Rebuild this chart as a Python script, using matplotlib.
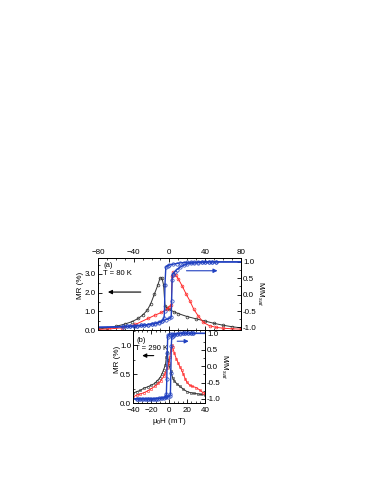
import matplotlib
matplotlib.use("Agg")
import matplotlib.pyplot as plt
import numpy as np

plt.rcParams['font.family'] = ['Liberation Sans', 'DejaVu Sans']
plt.rcParams['mathtext.fontset'] = 'custom'
plt.rcParams['mathtext.rm'] = 'Liberation Sans'
plt.rcParams['mathtext.it'] = 'Liberation Sans:italic'

# ---- panel (a), T = 80 K ----
# MR, field swept from +80 down to -80
xa_blk = [80, 70, 60, 50, 40, 30, 20, 10, 5, 0, -3, -5, -6.5, -8.5, -10.5, -13, -17, -21, -25, -30, -35, -42, -50, -60, -70, -80]
mra_blk = [0.12, 0.18, 0.26, 0.36, 0.48, 0.6, 0.72, 0.88, 0.98, 1.1, 1.2, 1.3, 2.4, 2.8, 2.78, 2.4, 1.9, 1.4, 1.05, 0.8, 0.62, 0.45, 0.32, 0.2, 0.12, 0.05]
# MR, field swept from -80 up to +80
xa_red = [-80, -68, -53, -38, -24, -16, -9, -3, 0, 2, 3, 4.5, 7, 10, 14, 19, 23, 27, 32, 38, 45, 52, 60, 70, 80]
mra_red = [0.04, 0.06, 0.12, 0.3, 0.62, 0.8, 0.94, 1.1, 1.25, 1.35, 2.9, 3.08, 2.95, 2.73, 2.38, 1.9, 1.55, 1.14, 0.77, 0.41, 0.23, 0.15, 0.1, 0.07, 0.05]
# M/Msat, descending branch
xa_mdn = [80, 60, 52, 48, 44, 40, 36, 32, 28, 24, 20, 16, 12, 8, 4, 0, -2, -4, -5, -5.5, -6, -8, -12, -16, -20, -24, -28, -32, -36, -40, -44, -48, -52, -60, -80]
ma_dn = [1.0, 1.0, 1.0, 1.0, 1.0, 1.0, 1.0, 1.0, 0.99, 0.99, 0.99, 0.98, 0.97, 0.95, 0.93, 0.91, 0.89, 0.85, 0.3, -0.5, -0.7, -0.8, -0.85, -0.88, -0.9, -0.92, -0.93, -0.94, -0.95, -0.96, -0.96, -0.97, -0.97, -0.98, -0.99]
# M/Msat, ascending branch
xa_mup = [-80, -60, -52, -48, -44, -40, -36, -32, -28, -24, -20, -16, -12, -8, -4, 0, 2, 2.5, 3, 3.5, 4, 6, 8, 12, 16, 20, 24, 28, 32, 36, 40, 44, 48, 52, 60, 80]
ma_up = [-1.0, -0.99, -0.98, -0.97, -0.97, -0.96, -0.95, -0.94, -0.93, -0.91, -0.89, -0.87, -0.84, -0.8, -0.76, -0.72, -0.68, -0.2, 0.45, 0.6, 0.64, 0.7, 0.76, 0.84, 0.9, 0.94, 0.96, 0.97, 0.98, 0.99, 0.99, 1.0, 1.0, 1.0, 1.0, 1.0]

# ---- panel (b), T = 290 K ----
xb_blk = [40, 36, 32, 28, 24, 20, 16, 12, 9, 6, 4, 2, 0, -1, -2, -3, -4, -6, -8, -10, -13, -16, -20, -24, -28, -32, -36, -40]
mrb_blk = [0.14, 0.15, 0.16, 0.17, 0.18, 0.2, 0.24, 0.29, 0.33, 0.38, 0.44, 0.55, 0.65, 0.75, 0.88, 0.8, 0.66, 0.58, 0.5, 0.44, 0.39, 0.34, 0.31, 0.28, 0.26, 0.22, 0.2, 0.17]
xb_red = [-40, -36, -32, -28, -24, -20, -16, -12, -9, -6, -4, -2, 0, 1, 2, 3, 4, 6, 8, 10, 12, 14, 16, 18, 20, 23, 26, 30, 34, 38, 40]
mrb_red = [0.11, 0.14, 0.16, 0.18, 0.21, 0.25, 0.29, 0.34, 0.39, 0.46, 0.52, 0.6, 0.7, 0.8, 0.92, 1.0, 0.96, 0.86, 0.77, 0.7, 0.63, 0.57, 0.5, 0.42, 0.36, 0.31, 0.29, 0.27, 0.23, 0.18, 0.17]
xb_mdn = [40, 30, 27, 24, 21, 18, 15, 12, 9, 6, 3, 1, -1, -1.5, -2, -2.5, -3, -3.5, -5, -8, -11, -14, -17, -20, -23, -26, -29, -32, -36, -40]
mb_dn = [1.0, 1.0, 1.0, 1.0, 1.0, 1.0, 1.0, 1.0, 0.99, 0.99, 0.98, 0.97, 0.95, 0.9, 0.4, -0.4, -0.86, -0.92, -0.95, -0.97, -0.98, -0.99, -1.0, -1.0, -1.0, -1.0, -1.0, -1.0, -1.0, -1.0]
xb_mup = [-40, -36, -33, -30, -27, -24, -21, -18, -15, -12, -9, -6, -3, -1, 1, 1.5, 2, 2.5, 3, 4, 6, 9, 12, 15, 18, 21, 24, 27, 30, 40]
mb_up = [-1.0, -1.0, -1.0, -1.0, -1.0, -1.0, -1.0, -1.0, -0.99, -0.99, -0.98, -0.97, -0.95, -0.93, -0.9, -0.85, -0.2, 0.6, 0.88, 0.93, 0.96, 0.98, 0.99, 1.0, 1.0, 1.0, 1.0, 1.0, 1.0, 1.0]

blk = '#333333'
red = '#ff2a2a'
blue = '#2040c0'
fs = 5.8


def style(ax):
    ax.tick_params(which='both', direction='in', labelsize=fs, pad=1.5)
    ax.tick_params(which='major', length=3, width=0.6)
    ax.tick_params(which='minor', length=1.5, width=0.5)
    for s in ax.spines.values():
        s.set_linewidth(0.7)


fig = plt.figure(figsize=(3.74, 4.84), dpi=100)

# panel a
ax1 = fig.add_axes([0.262, 0.318, 0.382, 0.149])
ax1.plot(xa_blk, mra_blk, color=blk, lw=0.7, marker='o', ms=2.0, mfc='none', mew=0.5)
ax1.plot(xa_red, mra_red, color=red, lw=0.7, marker='o', ms=2.0, mfc='none', mew=0.5)
ax1.set_xlim(-80, 80)
ax1.set_ylim(0, 3.85)
ax1.set_xticks([-80, -40, 0, 40, 80])
ax1.set_xticks(np.arange(-80, 81, 10), minor=True)
ax1.set_yticks([0, 1, 2, 3])
ax1.set_yticklabels(['0.0', '1.0', '2.0', '3.0'])
ax1.set_yticks(np.arange(0, 3.8, 0.5), minor=True)
ax1.xaxis.set_ticks_position('both')
ax1.tick_params(labelbottom=False, labeltop=True)
style(ax1)
ax1.set_ylabel('MR (%)', fontsize=fs, labelpad=1)
ax1.yaxis.set_label_coords(-0.1, 0.62)
ax1.text(0.04, 0.89, '(a)', transform=ax1.transAxes, fontsize=5.5, va='center')
ax1.text(0.035, 0.79, 'T = 80 K', transform=ax1.transAxes, fontsize=5.5, va='center')
ax1.annotate('', xy=(-72, 2.03), xytext=(-29, 2.03),
             arrowprops=dict(arrowstyle='-|>', color='black', lw=0.8, mutation_scale=6))

ax1r = ax1.twinx()
mk_dn = [abs(v) <= 52 for v in xa_mdn]
mk_up = [abs(v) <= 52 for v in xa_mup]
ax1r.plot(xa_mdn, ma_dn, color=blue, lw=1.0, marker='o', ms=2.4, mfc='none', mew=0.5, markevery=mk_dn)
ax1r.plot(xa_mup, ma_up, color=blue, lw=1.0, marker='o', ms=2.4, mfc='none', mew=0.5, markevery=mk_up)
ax1r.set_ylim(-1.08, 1.12)
ax1r.set_yticks([-1, -0.5, 0, 0.5, 1])
ax1r.set_yticklabels(['-1.0', '-0.5', '0.0', '0.5', '1.0'])
ax1r.set_yticks(np.arange(-1, 1.01, 0.25), minor=True)
style(ax1r)
ax1r.set_ylabel('M/M$_{sat}$', fontsize=fs, rotation=270, labelpad=6)
ax1r.annotate('', xy=(57, 0.73), xytext=(16, 0.73),
              arrowprops=dict(arrowstyle='-|>', color=blue, lw=0.8, mutation_scale=6))

# panel b
ax2 = fig.add_axes([0.356, 0.167, 0.192, 0.151])
ax2.plot(xb_blk, mrb_blk, color=blk, lw=0.7, marker='s', ms=1.4, mfc='none', mew=0.4)
ax2.plot(xb_red, mrb_red, color=red, lw=0.7, marker='s', ms=1.4, mfc='none', mew=0.4)
ax2.set_xlim(-40, 40)
ax2.set_ylim(0, 1.26)
ax2.set_xticks([-40, -20, 0, 20, 40])
ax2.set_xticks(np.arange(-40, 41, 5), minor=True)
ax2.set_yticks([0, 0.5, 1.0])
ax2.set_yticklabels(['0.0', '0.5', '1.0'])
ax2.set_yticks(np.arange(0, 1.26, 0.25), minor=True)
ax2.xaxis.set_ticks_position('both')
style(ax2)
ax2.tick_params(axis='x', pad=3)
ax2.set_xlabel('μ$_0$H (mT)', fontsize=fs, labelpad=1.5)
ax2.set_ylabel('MR (%)', fontsize=fs, labelpad=0)
ax2.yaxis.set_label_coords(-0.17, 0.6)
ax2.text(0.04, 0.86, '(b)', transform=ax2.transAxes, fontsize=5.5, va='center')
ax2.text(0.03, 0.75, 'T = 290 K', transform=ax2.transAxes, fontsize=5.5, va='center')
ax2.annotate('', xy=(-33, 0.82), xytext=(-14, 0.82),
             arrowprops=dict(arrowstyle='-|>', color='black', lw=0.8, mutation_scale=6))

ax2r = ax2.twinx()
mkb_dn = [-36 <= v <= 27 for v in xb_mdn]
mkb_up = [-36 <= v <= 27 for v in xb_mup]
ax2r.plot(xb_mdn, mb_dn, color=blue, lw=1.0, marker='o', ms=2.4, mfc='none', mew=0.5, markevery=mkb_dn)
ax2r.plot(xb_mup, mb_up, color=blue, lw=1.0, marker='o', ms=2.4, mfc='none', mew=0.5, markevery=mkb_up)
ax2r.set_ylim(-1.13, 1.10)
ax2r.set_yticks([-1, -0.5, 0, 0.5, 1])
ax2r.set_yticklabels(['-1.0', '-0.5', '0.0', '0.5', '1.0'])
ax2r.set_yticks(np.arange(-1, 1.01, 0.25), minor=True)
style(ax2r)
ax2r.set_ylabel('M/M$_{sat}$', fontsize=fs, rotation=270, labelpad=6)
ax2r.annotate('', xy=(25, 0.76), xytext=(6, 0.76),
              arrowprops=dict(arrowstyle='-|>', color=blue, lw=0.8, mutation_scale=6))

fig.savefig('out.png', dpi=100)
